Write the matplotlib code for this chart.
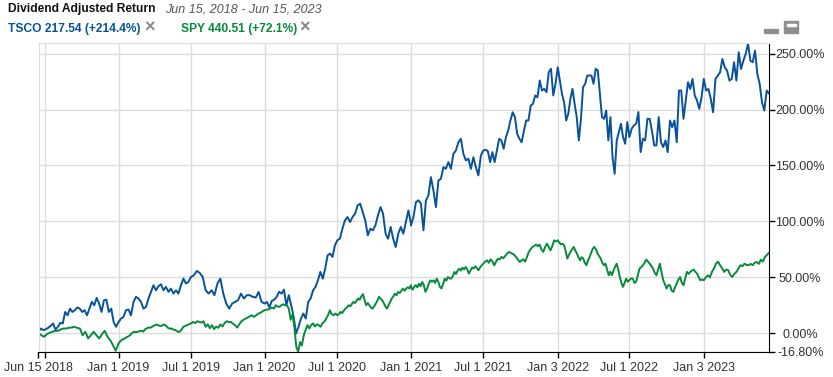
import numpy as np
import matplotlib
matplotlib.use("Agg")
import matplotlib.pyplot as plt
import matplotlib.dates as mdates
from matplotlib.patches import Rectangle
from datetime import date

plt.rcParams['font.family'] = ['Liberation Sans', 'DejaVu Sans']

# dates that split the series into chunks
anchors = [date(2018,6,15), date(2019,1,1), date(2019,7,1), date(2020,1,1), date(2020,7,1),
           date(2021,1,1), date(2021,7,1), date(2022,1,3), date(2022,7,1), date(2023,1,3), date(2023,6,15)]

# TSCO return %
tsco_a = [1.2,4.2,2.7,3.6,4.8,6.6,8.7,3.3,5.7,9.3,8.7,19,16,22,19,20.6,23,22,19,20.6,16,22,28,25,31.6,26.5,19,29.5,30,19,22,10,5.7,10]
tsco_b = [10,13,14.6,20.6,21.2,16,28,32.5,31,28,22,23.5,31,37,42.9,38.4,42,43.8,38.4,41.4,37,39.9,35.4,38.4,35.4,42.9,48.8,44.4,45.9,50.3]
tsco_c = [50.3,51.8,55.7,53.9,50.3,38.4,35.4,38.4,34,44.4,48.8,35.4,26.5,22,26.5,28,29.5,35.4,31,34,34,32.5,31.9,36.9,28,26.5]
tsco_d = [26.5,28,23,28.9,30,32.5,37,35.4,39,25,34,25,14.6,-0.3,5.7,13.1,17.6,13.1,28,31,38.4,41.4,47.3,54.8,48.8,57.8,69.7,71.2,68.2,78.6,83.1]
tsco_e = [83.1,84.5,93.5,100.9,103.9,99.4,103.9,106.9,114.3,115.8,108.4,100.9,87.5,93.5,92,96.5,105.4,112.8,106.9,89,84.5,95,84.5,77.1,89,95,89,99.4,109.8,98]
tsco_f = [96.4,103.9,117.3,118.8,115.8,92,118.8,123.2,139.6,127.7,112.8,136.6,138.1,148.5,147,153,147,160.4,163.4,170.8,173.8,160.4,154.5,156,147,157.4,148.5,141.1,158.9,163.4]
tsco_g = [163.4,164,162.8,153,161.9,153,163.4,173.8,172.3,164.9,175.3,181.2,190.2,197.6,193.1,178.3,173.8,170.8,181.2,190.2,190.2,203.6,205.1,212.6,211,226,217,218.5,215.5,233.4,236.4,212.6,223,237.8]
tsco_h = [237.8,226,214,206.6,190.2,196.2,209.6,218.5,205.1,193.2,172.4,191.7,220,223,230.4,230.4,230.4,223,236.4,234.9,214,193.2,191.7,199.2,172.4,193.2,157.5,142.6,172.4,179.8,187.3,175.4,169.4,188.7,175.4]
tsco_i = [175.4,182.8,185.8,187.3,197.7,162,173.9,172.4,191.7,191.7,181.2,167.9,167.9,193.2,170.8,166.4,172.3,161.9,190.2,184.2,190.2,170.8,217,217,191.7,208,224.4,218.4,227.4,212.5,208,200.6,211,227.4]
tsco_j = [227.4,217,218.4,209.5,197.6,227.4,230.4,233.3,245.2,237.8,234.8,225.9,227.4,242.3,225.9,251.2,236.3,243.7,249.7,259.2,243.7,242.3,252.7,231.8,222.9,206.5,199.1,217,214.4]

# SPY return %
spy_a = [0.3,-1.8,-3.2,-0.9,0.3,1.2,2.1,2.1,3.3,4.2,4.2,4.8,5.1,5.7,4.8,4.2,-1.8,1.2,-4.7,-1.8,1.2,-1.8,-4.7,-0.9,2.1,-3.2,-6.2,-10.7,-15.7,-9.2]
spy_b = [-9.2,-7,-5.6,-5,-3.8,-3,-1.8,0,1.2,1,1.2,1.8,2.1,1.5,3.6,4.5,5.1,5,6.3,7,7.8,7,6.3,7,7.8,6.5,4.8,4,4.2,3,2.7,1.5,1.2,3,5.7,6.5,7.2,8,8.7]
spy_c = [8.7,10.1,9,10.7,10.1,9.5,10.7,5.7,8,4.5,7.2,3.6,6,4.8,7.8,6,9,10.7,10,10.1,8.5,7.2,5,8,10.7,12,13.1,14,15.2,16,14.6,16,17.5,18.2,19.5,20.6]
spy_d = [20.6,21,21.2,22,23,22,25,24,23.5,25,25.9,25,25,22,12,17,5,-12,-16.6,-8,-11,-2,3,7.2,4.2,7.5,8.7,6,8,7.2,5.7,9,10.1,13.1,16,20.6,17,16.1,17.6,16.1]
spy_e = [16.1,17,19.1,18,20,22,23,25,24,26,28,27,29,31,30,33,34.9,30,25,27,25,23,22,24,26.5,29,32.5,31,29.5,27,24,22,25,28,31,33,35.4,34,36.9,36,38,39.9,38,39.9,41,40,42.9]
spy_f = [41.4,39,41.4,43,41,44.3,42,45.8,43,37,39.9,44,47.3,46,47.3,45,48.8,46,41.4,40,44,48.8,47,50.3,49,48.8,51,54.8,53,56,57.7,56,58.6,57,59.2,57,53.3,56,58.6,58,59.8,58,56.3,59,60.7,62.2]
spy_g = [62.2,64,65.2,63,66.1,64,60.7,64,66.7,66,68.2,67,69,71,72.6,72,71.1,70,68.2,66,63.7,65,66.1,64,68,72.6,75,77.1,78,79.2,78,79.2,75,72.7,77,80.1,77,74.1,78,83.1,82,83.1]
spy_h = [83.1,81,79.5,80,78.6,73,66.7,70,72.7,75,77.1,74,71.2,68,65.2,68,66.7,63,60.8,65,68.2,72,75.6,77.1,75,71.2,69,66.7,63,60.8,62.2,57,51.8,55,51.8,56,59.3,62.2,57,50.3,45,41.4,45,48.8,46,47.4]
spy_i = [47.4,49,48.8,45,45.9,52,57.8,59,60.8,63,65.8,64,62.2,60,57.8,54,51.8,57,62.2,55,47.4,44,39.9,43,42.9,38,36.9,41,44.4,48,50.3,45,42.9,49,54.8,53,54.8,56,56.9,55,53.3,50,47.4,48,47.4]
spy_j = [47.4,50,51.8,50,54.8,58,62.2,64,60.8,58,54.8,57,56.3,52,50.3,53,54.8,58,60.8,60,62.2,61,60.8,62,60.8,63,63.7,62,65.8,64,68.2,70,71.8]

x_ticks = [date(2018,6,15), date(2018,7,1), date(2019,1,1), date(2019,7,1), date(2020,1,1), date(2020,7,1),
           date(2021,1,1), date(2021,7,1), date(2022,1,3), date(2022,7,1), date(2023,1,3)]
x_labels = ["Jun 15 2018", "", "Jan 1 2019", "Jul 1 2019", "Jan 1 2020", "Jul 1 2020",
            "Jan 1 2021", "Jul 1 2021", "Jan 3 2022", "Jul 1 2022", "Jan 3 2023"]
y_ticks = [-16.8, 0, 50, 100, 150, 200, 250]
y_labels = ["-16.80%", "0.00%", "50.00%", "100.00%", "150.00%", "200.00%", "250.00%"]


def join_chunks(chunks):
    xs, ys = [], []
    nums = mdates.date2num(anchors)
    for i, c in enumerate(chunks):
        xs.extend(np.linspace(nums[i], nums[i + 1], len(c)))
        ys.extend(c)
    return xs, ys


W, H = 833, 377
fig = plt.figure(figsize=(W / 100, H / 100), dpi=100)
L, R, T, B = 38.5, 769, 43, 352
ax = fig.add_axes([L / W, 1 - B / H, (R - L) / W, (B - T) / H])

xt, yt = join_chunks([tsco_a, tsco_b, tsco_c, tsco_d, tsco_e, tsco_f, tsco_g, tsco_h, tsco_i, tsco_j])
xs, ys = join_chunks([spy_a, spy_b, spy_c, spy_d, spy_e, spy_f, spy_g, spy_h, spy_i, spy_j])
ax.plot(xt, yt, color='#07529a', lw=1.4)
ax.plot(xs, ys, color='#078a3c', lw=1.4)

ax.set_xlim(mdates.date2num(anchors[0]), mdates.date2num(anchors[-1]))
ax.set_ylim(-16.8, 259.5)
ax.set_xticks(mdates.date2num(x_ticks))
ax.set_xticklabels(x_labels)
ax.yaxis.tick_right()
ax.set_yticks(y_ticks)
ax.set_yticklabels(y_labels)
ax.grid(True, color='#dcdcdc', lw=1)
ax.set_axisbelow(True)
ax.tick_params(axis='x', length=4, width=1, color='black', labelsize=9, labelcolor='#333333', pad=3.5)
ax.tick_params(axis='y', length=4, width=1, color='black', labelsize=9, labelcolor='#333333', pad=18.5)
for lab in ax.get_yticklabels():
    lab.set_ha('center')
ax.spines['left'].set_color('#dcdcdc')
ax.spines['top'].set_color('#dcdcdc')
ax.spines['right'].set_color('black')
ax.spines['bottom'].set_color('black')


def put(x, y, s, **kw):
    fig.text(x / W, 1 - y / H, s, va='center', ha='left', **kw)


# header and legend
put(8, 9, "Dividend Adjusted Return", fontsize=8.65, fontweight='bold', color='#111111')
put(165, 9, "Jun 15, 2018 - Jun 15, 2023", fontsize=9, style='italic', color='#555555')
put(8, 29, "TSCO 217.54 (+214.4%)", fontsize=8.65, fontweight='bold', color='#07529a')
put(144, 28, "\u00d7", fontsize=13, color='#888888', fontweight='bold')
put(181, 29, "SPY 440.51 (+72.1%)", fontsize=8.65, fontweight='bold', color='#078a3c')
put(299, 28, "\u00d7", fontsize=13, color='#888888', fontweight='bold')

# minimise and maximise icons top right
fig.add_artist(Rectangle((764 / W, 1 - 33 / H), 14 / W, 4 / H, transform=fig.transFigure, color='#8e8e8e'))
fig.add_artist(Rectangle((784 / W, 1 - 33 / H), 14 / W, 12 / H, transform=fig.transFigure, color='#8e8e8e'))
fig.add_artist(Rectangle((786.5 / W, 1 - 26 / H), 9.5 / W, 2.5 / H, transform=fig.transFigure, color='white'))

fig.savefig('out.png', dpi=100)
